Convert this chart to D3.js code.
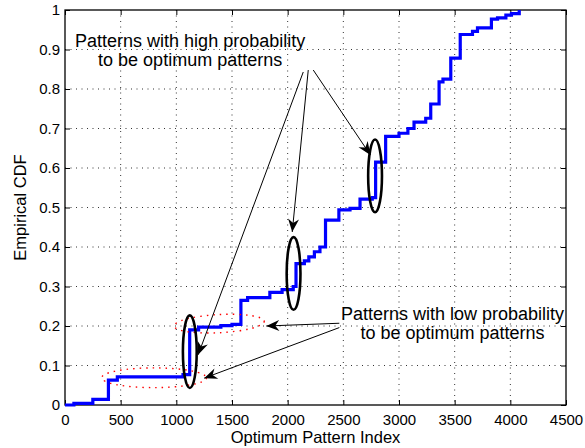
<!DOCTYPE html>
<html>
<head>
    <style>
        body { margin: 0; background: #fff; }
        svg { font-family: "Liberation Sans", Arial, sans-serif; }
        .tick text { font-size: 15px; fill: #000; }
        .grid line { stroke: #333; stroke-dasharray: 1,4.5; stroke-width: 1; }
        .note { font-size: 18px; text-anchor: middle; fill: #000; }
    </style>
    <script src="https://d3js.org/d3.v7.min.js"></script>
</head>
<body>
    <svg width="585" height="448"></svg>
    <script>

        // step CDF: pattern index where the step starts, cdf value from there on
        var patternIdx = [0, 80, 250, 390, 470, 1060, 1120, 1200, 1400, 1500, 1580, 1640, 1840, 1950,
                          2050, 2075, 2150, 2190, 2240, 2290, 2340, 2460, 2560, 2650, 2760, 2790, 2880,
                          3000, 3080, 3135, 3240, 3285, 3360, 3395, 3465, 3550, 3660, 3705, 3830, 3885,
                          3960, 4010, 4080];
        var cdfVals = [0, 0.004, 0.014, 0.063, 0.071, 0.077, 0.19, 0.197, 0.201, 0.204, 0.265, 0.272, 0.285, 0.292,
                       0.30, 0.358, 0.365, 0.375, 0.388, 0.40, 0.468, 0.494, 0.498, 0.521, 0.525, 0.615, 0.68,
                       0.688, 0.70, 0.716, 0.726, 0.762, 0.818, 0.825, 0.878, 0.938, 0.946, 0.955, 0.977, 0.98,
                       0.987, 0.991, 1.0];

        var xTicks = [0, 500, 1000, 1500, 2000, 2500, 3000, 3500, 4000, 4500];
        var yTicks = [0, 0.1, 0.2, 0.3, 0.4, 0.5, 0.6, 0.7, 0.8, 0.9, 1];

        // annotations (data coords)
        var highText = ["Patterns with high probability", "to be optimum patterns"];
        var lowText = ["Patterns with low probability", "to be optimum patterns"];
        var highEllipses = [[1121, 0.135], [2053, 0.333], [2785, 0.58]];
        var lowEllipses = [[800, 0.069, 470, 0.025, 0], [1385, 0.206, 405, 0.023, -3]];
        var arrows = [
            [2140, 0.843, 1196, 0.127],
            [2185, 0.848, 2041, 0.438],
            [2230, 0.848, 2743, 0.633],
            [2464, 0.207, 1808, 0.200],
            [2464, 0.196, 1250, 0.068]
        ];

        var svg = d3.select("svg"),
            margin = {left: 65, top: 10, right: 19, bottom: 43},
            width = 585 - margin.left - margin.right,
            height = 448 - margin.top - margin.bottom;

        var g = svg.append("g")
                   .attr("transform", "translate(" + margin.left + "," + margin.top + ")");

        var x = d3.scaleLinear().domain([0, 4500]).range([0, width]);
        var y = d3.scaleLinear().domain([0, 1]).range([height, 0]);

        // grid
        g.append("g").attr("class", "grid")
         .selectAll("line").data(xTicks.slice(1, -1)).enter().append("line")
         .attr("x1", d => x(d)).attr("x2", d => x(d)).attr("y1", 0).attr("y2", height);
        g.append("g").attr("class", "grid")
         .selectAll("line").data(yTicks.slice(1, -1)).enter().append("line")
         .attr("y1", d => y(d)).attr("y2", d => y(d)).attr("x1", 0).attr("x2", width);

        // axes, ticks inside like matlab
        var xAxis = g.append("g").attr("transform", "translate(0," + height + ")")
            .call(d3.axisBottom(x).tickValues(xTicks).tickFormat(d3.format("d")).tickSizeInner(-5).tickSizeOuter(0).tickPadding(9));
        var yAxis = g.append("g")
            .call(d3.axisLeft(y).tickValues(yTicks).tickFormat(d => d === 0 || d === 1 ? d : d3.format(".1f")(d)).tickSizeInner(-5).tickSizeOuter(0).tickPadding(5));
        g.append("g").attr("transform", "translate(0,0)")
            .call(d3.axisTop(x).tickValues(xTicks).tickFormat("").tickSizeInner(-5).tickSizeOuter(0));
        g.append("g").attr("transform", "translate(" + width + ",0)")
            .call(d3.axisRight(y).tickValues(yTicks).tickFormat("").tickSizeInner(-5).tickSizeOuter(0));
        g.selectAll(".domain").remove();
        g.selectAll(".tick line").attr("stroke", "#000");

        g.append("rect").attr("width", width).attr("height", height)
         .attr("fill", "none").attr("stroke", "#000").attr("stroke-width", 1.3);

        // curve
        var data = patternIdx.map((d, i) => ({idx: d, cdf: cdfVals[i]}));
        var line = d3.line().x(d => x(d.idx)).y(d => y(d.cdf)).curve(d3.curveStepAfter);
        g.append("path").datum(data)
         .attr("d", line)
         .attr("fill", "none")
         .attr("stroke", "#0000ff")
         .attr("stroke-width", 3.2);

        // red dotted ellipses
        lowEllipses.forEach(function(e) {
            var cx = x(e[0]), cy = y(e[1]);
            g.append("ellipse")
             .attr("cx", cx).attr("cy", cy)
             .attr("rx", x(e[2]) - x(0)).attr("ry", y(0) - y(e[3]))
             .attr("transform", "rotate(" + e[4] + "," + cx + "," + cy + ")")
             .attr("fill", "none").attr("stroke", "#ff0000")
             .attr("stroke-width", 1.4).attr("stroke-dasharray", "1.5,5");
        });

        // black ellipses
        g.selectAll(".hi").data(highEllipses).enter().append("ellipse")
         .attr("cx", d => x(d[0])).attr("cy", d => y(d[1]))
         .attr("rx", x(62) - x(0)).attr("ry", y(0) - y(0.092))
         .attr("fill", "none").attr("stroke", "#000").attr("stroke-width", 2.6);

        // arrows
        arrows.forEach(function(a) {
            var x1 = x(a[0]), y1 = y(a[1]), x2 = x(a[2]), y2 = y(a[3]);
            var ang = Math.atan2(y2 - y1, x2 - x1) * 180 / Math.PI;
            g.append("line")
             .attr("x1", x1).attr("y1", y1).attr("x2", x2).attr("y2", y2)
             .attr("stroke", "#000").attr("stroke-width", 1);
            g.append("path")
             .attr("d", "M0,0L-13,-5.5L-9,0L-13,5.5Z")
             .attr("transform", "translate(" + x2 + "," + y2 + ") rotate(" + ang + ")")
             .attr("fill", "#000");
        });

        // notes
        highText.forEach(function(t, i) {
            g.append("text").attr("class", "note")
             .attr("x", x(1124)).attr("y", y(0.906) + i * 19).text(t);
        });
        lowText.forEach(function(t, i) {
            g.append("text").attr("class", "note")
             .attr("x", x(3480)).attr("y", y(0.215) + i * 19).text(t);
        });

        // labels
        svg.append("text").attr("x", margin.left + width / 2).attr("y", 443)
           .attr("text-anchor", "middle").style("font-size", "16.5px").text("Optimum Pattern Index");
        svg.append("text")
           .attr("transform", "translate(26," + (margin.top + height / 2) + ") rotate(-90)")
           .attr("text-anchor", "middle").style("font-size", "16.5px").text("Empirical CDF");

    </script>
</body>
</html>
